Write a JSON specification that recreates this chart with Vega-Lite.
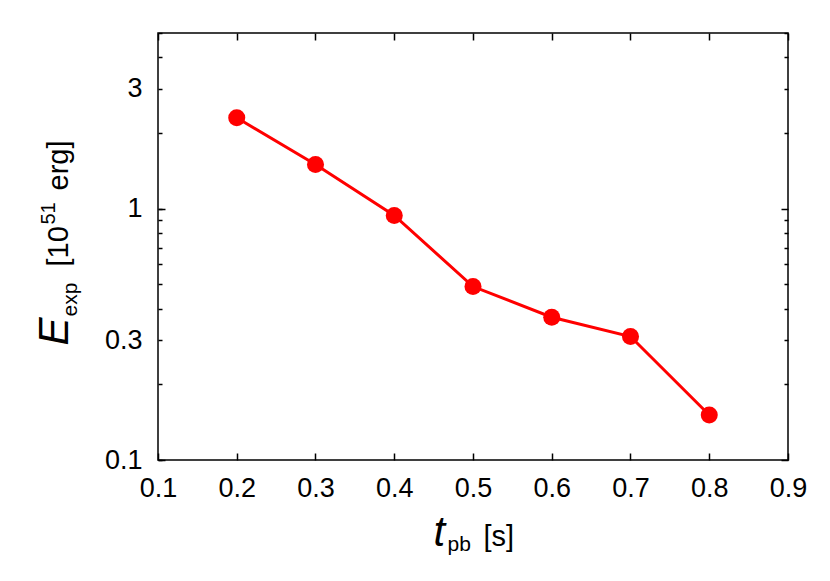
{
  "$schema": "https://vega.github.io/schema/vega-lite/v6.json",
  "width": 630,
  "height": 427,
  "autosize": "none",
  "padding": {"left": 158, "top": 33, "right": 42, "bottom": 121},
  "background": "white",
  "config": {
    "view": {"stroke": "black", "strokeWidth": 1.5},
    "axis": {
      "domain": false,
      "grid": false,
      "labelFont": "Liberation Sans",
      "labelFontSize": 27,
      "labelColor": "black",
      "tickColor": "black",
      "tickWidth": 1.5,
      "titleFont": "Liberation Sans",
      "titleColor": "black",
      "titleFontWeight": "normal",
      "labelFlush": false,
      "labelOverlap": false
    }
  },
  "data": {
    "values": [
      {"t": 0.2, "E": 2.30},
      {"t": 0.3, "E": 1.50},
      {"t": 0.4, "E": 0.94},
      {"t": 0.5, "E": 0.49},
      {"t": 0.6, "E": 0.37},
      {"t": 0.7, "E": 0.31},
      {"t": 0.8, "E": 0.151}
    ]
  },
  "resolve": {"axis": {"x": "independent", "y": "independent"}},
  "layer": [
    {
      "mark": {"type": "line", "color": "#ff0000", "strokeWidth": 3},
      "encoding": {
        "x": {"field": "t", "type": "quantitative",
          "scale": {"domain": [0.1, 0.9], "nice": false, "zero": false},
          "axis": {"orient": "bottom", "values": [0.1, 0.2, 0.3, 0.4, 0.5, 0.6, 0.7, 0.8, 0.9], "format": ".1f",
            "tickSize": -7, "labelPadding": 22,
            "title": "t", "titleFontStyle": "italic", "titleFontSize": 42, "titleX": 275, "titleY": 85,
            "titleAlign": "left", "titleBaseline": "alphabetic", "titleAngle": 0}},
        "y": {"field": "E", "type": "quantitative",
          "scale": {"type": "log", "domain": [0.1, 5], "nice": false},
          "axis": {"orient": "left", "values": [0.1, 0.3, 1, 3], "format": "~g",
            "tickSize": -4, "labelPadding": 20,
            "title": "E", "titleFontStyle": "italic", "titleFontSize": 42, "titleX": -91, "titleY": 312,
            "titleAlign": "left", "titleBaseline": "alphabetic", "titleAngle": 270}}
      }
    },
    {
      "mark": {"type": "point", "filled": true, "color": "#ff0000", "opacity": 1, "size": 290},
      "encoding": {
        "x": {"field": "t", "type": "quantitative",
          "scale": {"domain": [0.1, 0.9], "nice": false, "zero": false},
          "axis": {"orient": "top", "values": [0.1, 0.2, 0.3, 0.4, 0.5, 0.6, 0.7, 0.8, 0.9],
            "tickSize": -7, "labels": false, "title": null}},
        "y": {"field": "E", "type": "quantitative",
          "scale": {"type": "log", "domain": [0.1, 5], "nice": false},
          "axis": {"orient": "left", "values": [0.1, 1], "tickSize": -7, "labels": false,
            "title": "exp", "titleFontSize": 21, "titleX": -82, "titleY": 283,
            "titleAlign": "left", "titleBaseline": "alphabetic", "titleAngle": 270}}
      }
    },
    {
      "mark": {"type": "point", "opacity": 0},
      "encoding": {
        "x": {"field": "t", "type": "quantitative",
          "scale": {"domain": [0.1, 0.9], "nice": false, "zero": false},
          "axis": {"orient": "bottom", "ticks": false, "labels": false,
            "title": "pb", "titleFontSize": 21, "titleX": 289, "titleY": 90,
            "titleAlign": "left", "titleBaseline": "alphabetic", "titleAngle": 0}},
        "y": {"field": "E", "type": "quantitative",
          "scale": {"type": "log", "domain": [0.1, 5], "nice": false},
          "axis": {"orient": "left", "values": [0.2, 0.4, 0.5, 0.6, 0.7, 0.8, 0.9, 2, 4, 5], "tickSize": -4, "labels": false,
            "title": "[10", "titleFontSize": 29, "titleX": -91, "titleY": 233,
            "titleAlign": "left", "titleBaseline": "alphabetic", "titleAngle": 270}}
      }
    },
    {
      "mark": {"type": "point", "opacity": 0},
      "encoding": {
        "x": {"field": "t", "type": "quantitative",
          "scale": {"domain": [0.1, 0.9], "nice": false, "zero": false},
          "axis": {"orient": "bottom", "ticks": false, "labels": false,
            "title": "[s]", "titleFontSize": 29, "titleX": 325, "titleY": 85,
            "titleAlign": "left", "titleBaseline": "alphabetic", "titleAngle": 0}},
        "y": {"field": "E", "type": "quantitative",
          "scale": {"type": "log", "domain": [0.1, 5], "nice": false},
          "axis": {"orient": "right", "values": [0.1, 1], "tickSize": -7, "labels": false, "title": null}}
      }
    },
    {
      "mark": {"type": "point", "opacity": 0},
      "encoding": {
        "x": {"field": "t", "type": "quantitative",
          "scale": {"domain": [0.1, 0.9], "nice": false, "zero": false}, "axis": null},
        "y": {"field": "E", "type": "quantitative",
          "scale": {"type": "log", "domain": [0.1, 5], "nice": false},
          "axis": {"orient": "right", "values": [0.2, 0.3, 0.4, 0.5, 0.6, 0.7, 0.8, 0.9, 2, 3, 4, 5], "tickSize": -4, "labels": false, "title": null}}
      }
    },
    {
      "mark": {"type": "point", "opacity": 0},
      "encoding": {
        "x": {"field": "t", "type": "quantitative",
          "scale": {"domain": [0.1, 0.9], "nice": false, "zero": false}, "axis": null},
        "y": {"field": "E", "type": "quantitative",
          "scale": {"type": "log", "domain": [0.1, 5], "nice": false},
          "axis": {"orient": "left", "ticks": false, "labels": false,
            "title": "51", "titleFontSize": 20, "titleX": -104, "titleY": 191,
            "titleAlign": "left", "titleBaseline": "alphabetic", "titleAngle": 270}}
      }
    },
    {
      "mark": {"type": "point", "opacity": 0},
      "encoding": {
        "x": {"field": "t", "type": "quantitative",
          "scale": {"domain": [0.1, 0.9], "nice": false, "zero": false}, "axis": null},
        "y": {"field": "E", "type": "quantitative",
          "scale": {"type": "log", "domain": [0.1, 5], "nice": false},
          "axis": {"orient": "left", "ticks": false, "labels": false,
            "title": "erg]", "titleFontSize": 29, "titleX": -91, "titleY": 157,
            "titleAlign": "left", "titleBaseline": "alphabetic", "titleAngle": 270}}
      }
    }
  ]
}
